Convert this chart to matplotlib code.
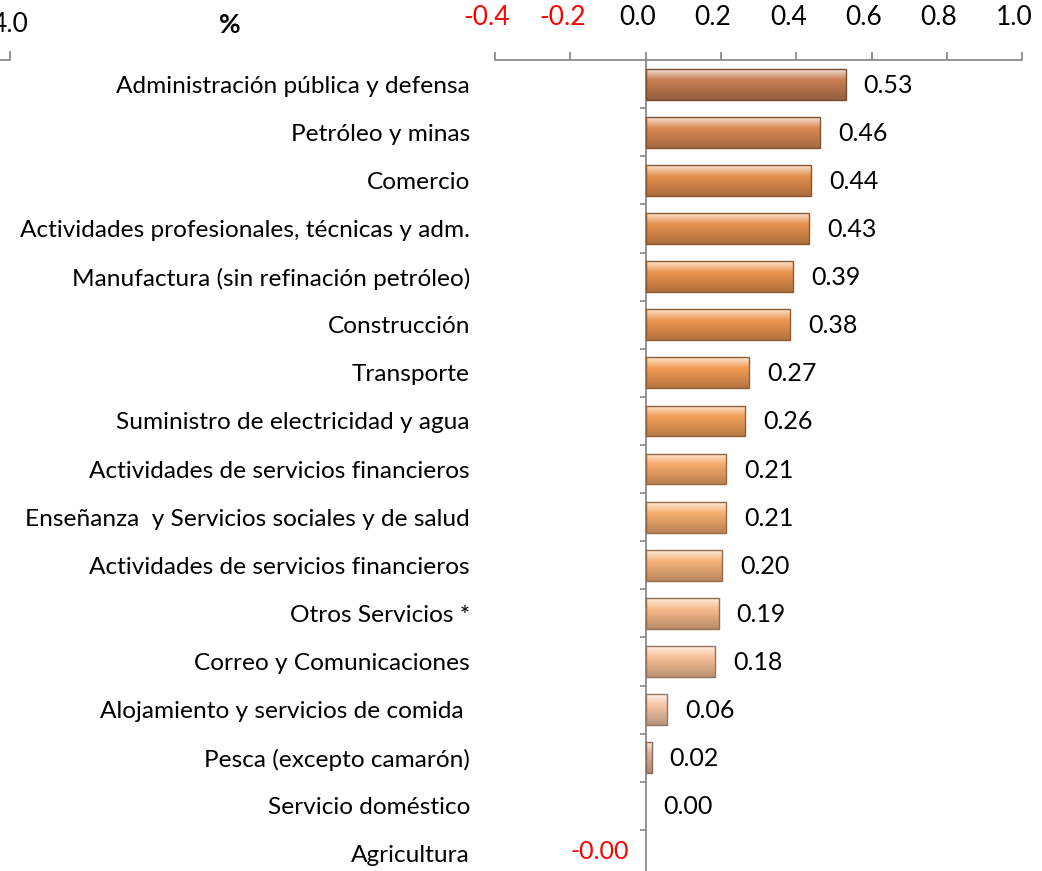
import matplotlib
matplotlib.use('Agg')
import matplotlib.pyplot as plt
import matplotlib.colors as mcolors
import matplotlib.transforms as mtransforms
from matplotlib.lines import Line2D
import numpy as np

plt.rcParams['font.family'] = ['Lato', 'DejaVu Sans']

# datos
categorias = [
    'Administración pública y defensa',
    'Petróleo y minas',
    'Comercio',
    'Actividades profesionales, técnicas y adm.',
    'Manufactura (sin refinación petróleo)',
    'Construcción',
    'Transporte',
    'Suministro de electricidad y agua',
    'Actividades de servicios financieros',
    'Enseñanza  y Servicios sociales y de salud',
    'Actividades de servicios financieros',
    'Otros Servicios *',
    'Correo y Comunicaciones',
    'Alojamiento y servicios de comida ',
    'Pesca (excepto camarón)',
    'Servicio doméstico',
    'Agricultura',
]
valores = [0.531, 0.464, 0.44, 0.434, 0.392, 0.384, 0.274, 0.264, 0.214, 0.213,
           0.204, 0.194, 0.184, 0.058, 0.016, 0.0, -0.001]
ticks_x = [-0.4, -0.2, 0.0, 0.2, 0.4, 0.6, 0.8, 1.0]

# colores de las barras (de oscuro arriba a claro abajo)
colores = ['#c87e52', '#dc8a55', '#e5904f', '#e8924f', '#ec9550', '#ee9752',
           '#f39c55', '#f5a25c', '#f7ab6b', '#f7ae70', '#f7b47c', '#f7bb8a',
           '#f8c197', '#f5c6a6', '#e2b39a', '#f5c6a6', '#f5c6a6']

fig = plt.figure(figsize=(10.42, 8.71), dpi=100)
ax = fig.add_axes([0.475, -0.008, 0.506, 0.939])

y = np.arange(len(categorias))
bar_h = 0.64
bars = ax.barh(y, valores, height=bar_h, color=colores, edgecolor='none', zorder=2)

# efecto biselado: degradado vertical recortado a cada barra
for b, c in zip(bars, colores):
    x0, y0 = b.get_x(), b.get_y()
    w, h = b.get_width(), b.get_height()
    if abs(w) < 0.005:
        b.set_visible(False)
        continue
    base = np.array(mcolors.to_rgb(c))
    light = base + (1 - base) * 0.75
    dark = base * 0.75
    t = np.linspace(0, 1, 64)[:, None]
    grad = np.where(t < 0.35, light + (base - light) * (t / 0.35),
                    base + (dark - base) * ((t - 0.35) / 0.65))
    img = np.repeat(grad[:, None, :], 2, axis=1)
    im = ax.imshow(img, extent=(min(x0, x0 + w), max(x0, x0 + w), y0 + h, y0),
                   aspect='auto', interpolation='bilinear', zorder=3)
    im.set_clip_path(b)
    ax.add_patch(plt.Rectangle((x0, y0), w, h, fill=False,
                               edgecolor=tuple(base * 0.6), lw=1.0, zorder=4))

ax.set_xlim(-0.4, 1.0)
ax.set_ylim(len(categorias) - 0.5, -0.5)

# eje x arriba
ax.xaxis.tick_top()
ax.set_xticks(ticks_x)
ax.set_xticklabels([f'{t:.1f}' for t in ticks_x])
ax.tick_params(axis='x', direction='out', length=6, width=1.3, color='#8c8c8c',
               labelsize=19, pad=16)
shift = mtransforms.ScaledTranslation(-8 / 100, 0, fig.dpi_scale_trans)
for lab, t in zip(ax.get_xticklabels(), ticks_x):
    lab.set_color('red' if t < 0 else 'black')
    lab.set_transform(lab.get_transform() + shift)

# eje y en x = 0 con marcas entre categorías
ax.spines['left'].set_position(('data', 0))
ax.set_yticks(y[:-1] + 0.5)
ax.set_yticklabels([])
ax.tick_params(axis='y', direction='out', length=4, width=1.3, color='#8c8c8c')
for s in ['right', 'bottom']:
    ax.spines[s].set_visible(False)
for s in ['left', 'top']:
    ax.spines[s].set_color('#8c8c8c')
    ax.spines[s].set_linewidth(1.3)

# nombres de categorías
for yi, cat in zip(y, categorias):
    ax.annotate(cat, xy=(0, yi), xycoords=ax.get_yaxis_transform(),
                xytext=(-25, -2), textcoords='offset pixels',
                ha='right', va='center', fontsize=17.6)

# etiquetas de valores
for yi, v in zip(y, valores):
    txt = f'{v:.2f}'
    if v < 0:
        ax.annotate(txt, xy=(0, yi), xytext=(-17, 2), textcoords='offset pixels',
                    ha='right', va='center', fontsize=18, color='red')
    else:
        ax.annotate(txt, xy=(v, yi), xytext=(18, -1), textcoords='offset pixels',
                    ha='left', va='center', fontsize=18, color='black')

# restos del panel vecino
fig.text(230 / 1042, 1 - 25 / 871, '%', ha='center', va='center',
         fontsize=19, fontweight='bold')
fig.text(-0.008, 1 - 25 / 871, '4.0', ha='left', va='center', fontsize=19)
fig.add_artist(Line2D([0, 10 / 1042, 10 / 1042], [1 - 60 / 871, 1 - 60 / 871, 1 - 52 / 871],
                      color='#8c8c8c', lw=1.3, transform=fig.transFigure))

fig.savefig('out.png', dpi=100)
